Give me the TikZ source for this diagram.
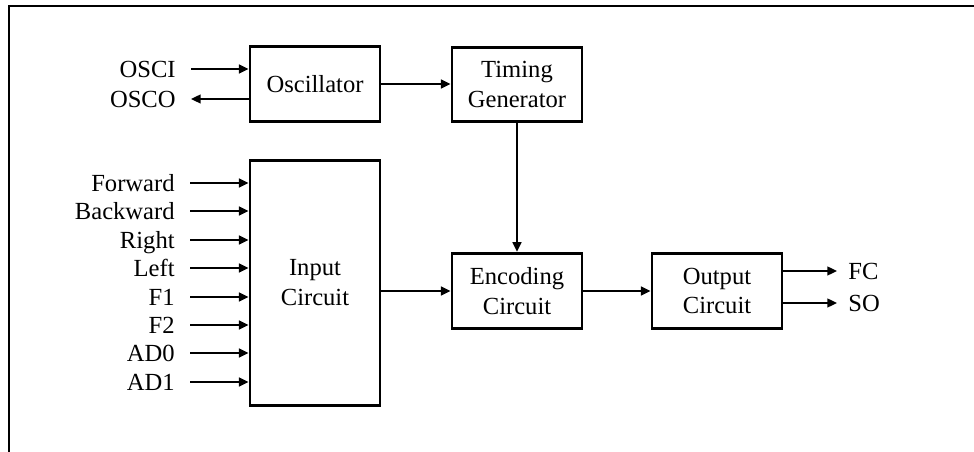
\documentclass[tikz,border=0pt]{standalone}
\usepackage{fontspec}
\setmainfont{Liberation Serif}
\usepackage{tikz}
\usetikzlibrary{arrows.meta}
\tikzstyle{block}=[draw,line width=1.6pt,minimum width=2.6cm,align=center,inner sep=2pt]
\tikzstyle{signal}=[anchor=east,inner xsep=0.3cm,inner ysep=0pt,text height=9.2pt,text depth=0pt]
\tikzstyle{outsignal}=[anchor=west,inner xsep=0.22cm,inner ysep=0pt,text height=9.2pt,text depth=0pt]
\tikzstyle{line} = [draw, line width=1.1pt, -{Triangle[length=5.5pt,width=5pt]}]

\begin{document}
\begin{tikzpicture}[x=0.02cm,y=-0.02cm,font=\fontsize{14}{17}\selectfont]
  \useasboundingbox (0,0) rectangle (974,452);
  % frame
  \draw[line width=1.5pt] (9,452) -- (9,6) -- (974,6);
  % blocks
  \node[block,minimum height=1.49cm] (Osc) at (315,84) {Oscillator};
  \node[block,minimum height=1.49cm] (Timing) at (517,84.5) {Timing\\Generator};
  \node[block,minimum height=4.91cm] (Input) at (315,283) {Input\\Circuit};
  \node[block,minimum height=1.51cm] (Encoding) at (517,291) {Encoding\\Circuit};
  \node[block,minimum height=1.51cm] (Output) at (717,291) {Output\\Circuit};
  % oscillator pins
  \node[signal] (OSCI) at (191,69) {OSCI};
  \node[signal] (OSCO) at (191,99) {OSCO};
  \path [line] (OSCI.east) -- (OSCI.east -| Osc.west);
  \path [line] (OSCO.east -| Osc.west) -- (OSCO.east);
  % inputs
  \node[signal] (Forward) at (190,183) {Forward};
  \node[signal] (Backward) at (190,211) {Backward};
  \node[signal] (Right) at (190,240) {Right};
  \node[signal] (Left) at (190,268) {Left};
  \node[signal] (F1) at (190,297) {F1};
  \node[signal] (F2) at (190,325) {F2};
  \node[signal] (AD0) at (190,353) {AD0};
  \node[signal] (AD1) at (190,382) {AD1};
  \path [line] (Forward.east) -- (Forward.east -| Input.west);
  \path [line] (Backward.east) -- (Backward.east -| Input.west);
  \path [line] (Right.east) -- (Right.east -| Input.west);
  \path [line] (Left.east) -- (Left.east -| Input.west);
  \path [line] (F1.east) -- (F1.east -| Input.west);
  \path [line] (F2.east) -- (F2.east -| Input.west);
  \path [line] (AD0.east) -- (AD0.east -| Input.west);
  \path [line] (AD1.east) -- (AD1.east -| Input.west);
  % outputs
  \node[outsignal] (FC) at (837,271) {FC};
  \node[outsignal] (SO) at (837,303) {SO};
  \path [line] (FC.west -| Output.east) -- (FC.west);
  \path [line] (SO.west -| Output.east) -- (SO.west);
  % links between blocks
  \path [line] (Osc.east) -- (Osc.east -| Timing.west);
  \path [line] (Timing.south) -- (Timing.south |- Encoding.north);
  \path [line] (Input.east |- Encoding.west) -- (Encoding.west);
  \path [line] (Encoding.east) -- (Encoding.east -| Output.west);
\end{tikzpicture}
\end{document}
